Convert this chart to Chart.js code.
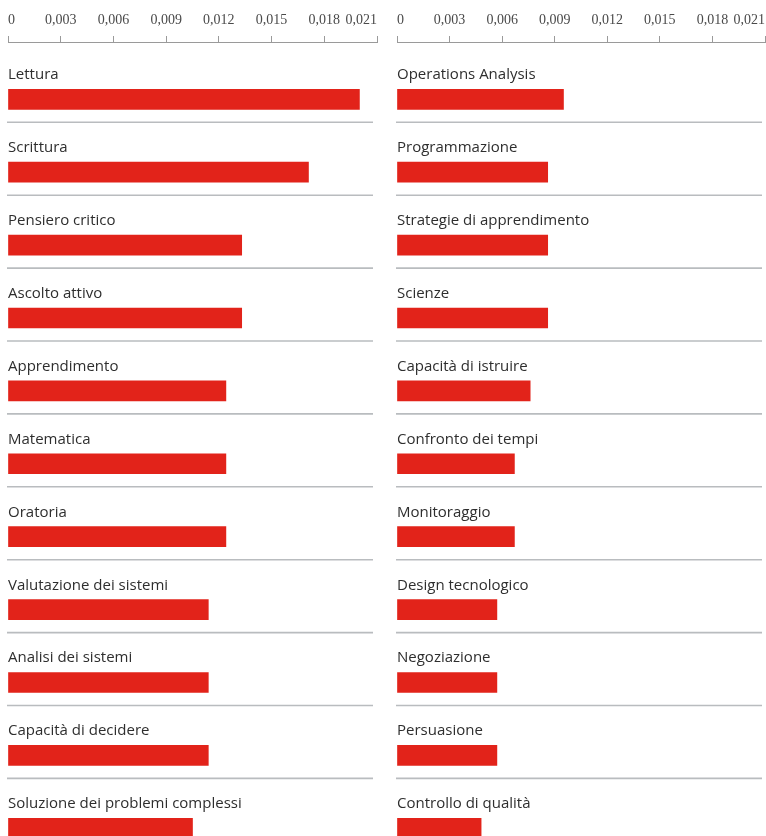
<!DOCTYPE html>
<html>
<head>
<meta charset="utf-8">
<script src="https://cdn.jsdelivr.net/npm/chart.js@4.4.1/dist/chart.umd.min.js"></script>
<style>
  html, body { margin: 0; padding: 0; background: #ffffff; }
  #wrap { position: relative; width: 766px; height: 836px; overflow: hidden; }
  canvas { position: absolute; top: 0; }
</style>
</head>
<body>
<div id="wrap">
  <canvas id="left" width="383" height="836" style="left:0"></canvas>
  <canvas id="right" width="383" height="836" style="left:383px"></canvas>
</div>
<script>
// ---- data ----
const leftSkills = [
  'Lettura', 'Scrittura', 'Pensiero critico', 'Ascolto attivo', 'Apprendimento',
  'Matematica', 'Oratoria', 'Valutazione dei sistemi', 'Analisi dei sistemi',
  'Capacità di decidere', 'Soluzione dei problemi complessi'
];
const leftValues = [0.0200, 0.0171, 0.0133, 0.0133, 0.0124, 0.0124, 0.0124, 0.0114, 0.0114, 0.0114, 0.0105];

const rightSkills = [
  'Operations Analysis', 'Programmazione', 'Strategie di apprendimento', 'Scienze',
  'Capacità di istruire', 'Confronto dei tempi', 'Monitoraggio', 'Design tecnologico',
  'Negoziazione', 'Persuasione', 'Controllo di qualità'
];
const rightValues = [0.0095, 0.0086, 0.0086, 0.0086, 0.0076, 0.0067, 0.0067, 0.0057, 0.0057, 0.0057, 0.0048];

const tickValues = [0, 0.003, 0.006, 0.009, 0.012, 0.015, 0.018, 0.021];
const tickLabels = ['0', '0,003', '0,006', '0,009', '0,012', '0,015', '0,018', '0,021'];

// ---- styling ----
const BAR_RED = '#e2231a';
const TEXT = '#2e2e2e';
const AXIS = '#9a9a9a';
const RULE = '#b9bcbf';

const rowLabelPlugin = {
  id: 'rowLabels',
  afterDatasetsDraw(chart) {
    const ctx = chart.ctx;
    const area = chart.chartArea;
    const yScale = chart.scales.y;
    const o = chart.options.plugins.rowLabels;
    ctx.save();
    ctx.font = '400 15px "Open Sans", "Noto Sans", sans-serif';
    ctx.fillStyle = TEXT;
    ctx.textAlign = 'left';
    ctx.textBaseline = 'alphabetic';
    o.names.forEach((name, i) => {
      const yc = yScale.getPixelForValue(i);
      ctx.fillText(name, area.left, yc - 20);
      ctx.strokeStyle = RULE;
      ctx.lineWidth = 1.6;
      ctx.beginPath();
      ctx.moveTo(area.left - 1, yc + 23);
      ctx.lineTo(area.right - o.ruleInset, yc + 23);
      ctx.stroke();
    });
    ctx.restore();
  }
};

function makeChart(id, names, values, padLeft, padRight, ruleInset) {
  return new Chart(document.getElementById(id), {
    type: 'bar',
    data: {
      datasets: [{
        data: values.map((v, i) => ({ x: v, y: i })),
        backgroundColor: BAR_RED,
        borderWidth: 0,
        barThickness: 20
      }]
    },
    options: {
      indexAxis: 'y',
      responsive: false,
      animation: false,
      layout: { padding: { left: padLeft, right: padRight, top: 0, bottom: 0 } },
      plugins: {
        legend: { display: false },
        tooltip: { enabled: false },
        rowLabels: { names: names, ruleInset: ruleInset }
      },
      scales: {
        x: {
          type: 'linear',
          position: 'top',
          min: 0,
          max: 0.021,
          afterBuildTicks: (s) => { s.ticks = tickValues.map(v => ({ value: v })); },
          afterFit: (s) => { s.height = 42; s.paddingLeft = 0; s.paddingRight = 0; },
          ticks: {
            align: 'inner',
            padding: 7,
            color: '#4a4a4a',
            font: { family: '"Liberation Serif", "DejaVu Serif", serif', size: 14 },
            callback: (v, idx) => tickLabels[idx]
          },
          grid: {
            drawOnChartArea: false,
            drawTicks: true,
            tickLength: 6,
            color: AXIS,
            lineWidth: 1
          },
          border: { display: true, color: AXIS, width: 1 }
        },
        y: {
          type: 'linear',
          reverse: true,
          offset: false,
          min: -0.786,
          max: 10.106,
          display: false
        }
      }
    },
    plugins: [rowLabelPlugin]
  });
}

makeChart('left', leftSkills, leftValues, 8, 6, 4);
makeChart('right', rightSkills, rightValues, 14, 1, 3);
</script>
</body>
</html>
